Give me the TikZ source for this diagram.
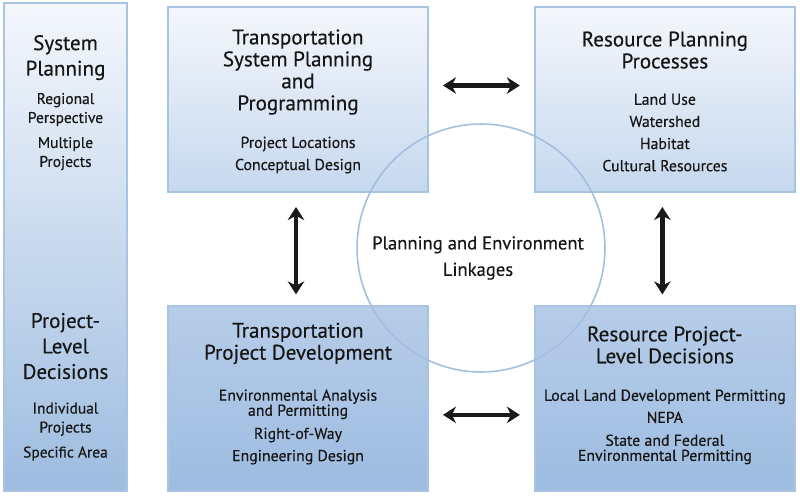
\documentclass[tikz,border=0pt]{standalone}
\usepackage{fontspec}
\setmainfont{PT Sans}[FakeBold=0.35]
\usetikzlibrary{positioning,calc,arrows.meta}
\definecolor{edgeblue}{HTML}{A9C3E3}
\definecolor{paleblue}{HTML}{F4F7FC}
\definecolor{midblue}{HTML}{C6D8EE}
\definecolor{lowtop}{HTML}{B7CDE9}
\definecolor{deepblue}{HTML}{9DBCE0}
\definecolor{ringblue}{HTML}{A3BFE0}
\definecolor{inkgray}{HTML}{161616}

\begin{document}
\begin{tikzpicture}[
	x=0.02cm, y=-0.02cm,
	node distance=2.24cm and 2.1cm,
	panel/.style={draw=edgeblue, line width=1.1pt, minimum width=5.2cm, minimum height=3.7cm, inner sep=0pt},
	upper/.style={panel, top color=paleblue, bottom color=midblue},
	lower/.style={panel, top color=lowtop, bottom color=deepblue},
	head/.style={align=center, text=inkgray, font=\fontsize{12}{12.5}\selectfont},
	sidehead/.style={align=center, text=inkgray, font=\fontsize{12}{14.5}\selectfont},
	items/.style={align=center, text=inkgray, font=\fontsize{9}{12.6}\selectfont},
	sideitems/.style={align=center, text=inkgray, font=\fontsize{8.8}{10.8}\selectfont},
	ring/.style={circle, draw=ringblue, line width=0.9pt, minimum size=4.96cm, inner sep=0pt},
	link/.style={{Stealth[length=0.26cm,width=0.33cm]}-{Stealth[length=0.26cm,width=0.33cm]}, line width=2.6pt, black!90}
]
	\useasboundingbox (0,0) rectangle (800,497);

	% left scale column
	\node[draw=edgeblue, line width=1.1pt, top color=paleblue, bottom color=deepblue,
		minimum width=2.46cm, minimum height=9.76cm, inner sep=0pt] (scale) at (65.5,247) {};
	\node[sidehead] (sysHead) at ($(scale.north)+(0,55.5)$) {System\\Planning};
	\node[sideitems] (sysItems) at ($(scale.north)+(0,129.5)$) {Regional\\Perspective\\[3.4pt]Multiple\\Projects};
	\node[sidehead] (projHead) at ($(scale.north)+(0,344)$) {Project-\\Level\\Decisions};
	\node[sideitems] (projItems) at ($(scale.north)+(0,429.5)$) {Individual\\Projects\\[3.4pt]Specific Area};

	% four boxes
	\node[upper] (tsp) at (298,99.5) {};
	\node[upper, right=of tsp] (rpp) {};
	\node[lower, below=of tsp] (tpd) {};
	\node[lower, below=of rpp] (rpl) {};

	\node[head] (tspHead) at ($(tsp.north)+(0,66)$) {Transportation\\System Planning\\and\\Programming};
	\node[items] (tspItems) at ($(tsp.north)+(0,149)$) {Project Locations\\Conceptual Design};

	\node[head] (rppHead) at ($(rpp.north)+(0,44)$) {Resource Planning\\Processes};
	\node[items] (rppItems) at ($(rpp.north)+(0,126.5)$) {Land Use\\Watershed\\Habitat\\Cultural Resources};

	\node[head] (tpdHead) at ($(tpd.north)+(0,38.5)$) {Transportation\\Project Development};
	\node[items] (tpdItems) at ($(tpd.north)+(0,122)$) {Environmental Analysis\\[-4pt]and Permitting\\[0.6pt]Right-of-Way\\Engineering Design};

	\node[head] (rplHead) at ($(rpl.north)+(0,40)$) {Resource Project-\\Level Decisions};
	\node[items] (rplItems) at ($(rpl.north)+(0,122)$) {Local Land Development Permitting\\NEPA\\[0.4pt]State and Federal\\[-4pt]Environmental Permitting};

	% linkages
	\draw[link, shorten <=8pt, shorten >=8pt] ([yshift=0.28cm]tsp.east) -- ([yshift=0.28cm]rpp.west);
	\draw[link, shorten <=8pt, shorten >=8pt] ([yshift=-0.33cm]tpd.east) -- ([yshift=-0.33cm]rpl.west);
	\draw[link, shorten <=8pt, shorten >=6pt] ([xshift=-0.04cm]tsp.south) -- ([xshift=-0.04cm]tpd.north);
	\draw[link, shorten <=8pt, shorten >=6pt] ([xshift=-0.05cm]rpp.south) -- ([xshift=-0.05cm]rpl.north);

	\node[ring] (hub) at (481,248) {};
	\node[head, font=\fontsize{10.6}{15}\selectfont] (hubText) at ($(hub.center)+(-3,10)$) {Planning and Environment\\Linkages};
\end{tikzpicture}
\end{document}
